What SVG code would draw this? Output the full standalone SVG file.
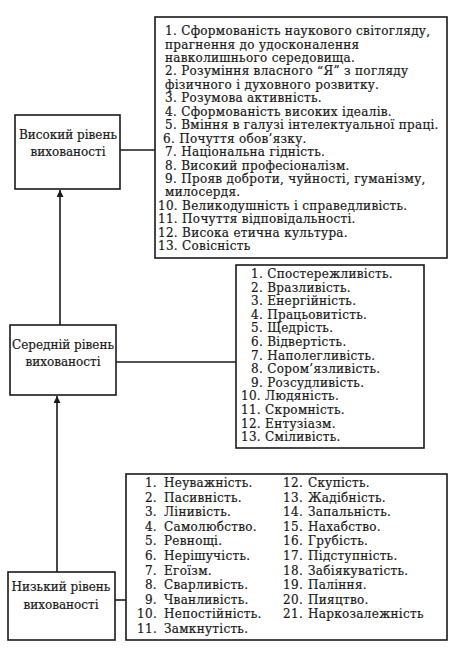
<svg xmlns="http://www.w3.org/2000/svg" width="455" height="650" viewBox="0 0 455 650">
<defs>
<style>
.box{fill:#fff;stroke:#1a1a1a;stroke-width:1.6}
.ln{fill:none;stroke:#1a1a1a;stroke-width:1.6}
.t{font-family:"DejaVu Serif","Liberation Serif",serif;font-size:12px;letter-spacing:0.3px;fill:#1a1a1a;stroke:#1a1a1a;stroke-width:0.2}
.n{font-family:"DejaVu Serif","Liberation Serif",serif;font-size:12px;fill:#1a1a1a;stroke:#1a1a1a;stroke-width:0.2;text-anchor:middle}
.e{text-anchor:end}
</style>
<marker id="arr" viewBox="0 0 10 10" refX="10" refY="5" markerWidth="8" markerHeight="7" markerUnits="userSpaceOnUse" orient="auto">
<path d="M0,0 L10,5 L0,10 z" fill="#1a1a1a"/>
</marker>
</defs>
<rect width="455" height="650" fill="#fff"/>

<g id="connectors">
<line class="ln" x1="120" y1="150" x2="155" y2="150"/>
<line class="ln" x1="116" y1="362" x2="236" y2="362"/>
<line class="ln" x1="115" y1="600" x2="126" y2="600"/>
<line class="ln" x1="60" y1="325" x2="60" y2="190" marker-end="url(#arr)"/>
<line class="ln" x1="57" y1="572" x2="57" y2="396" marker-end="url(#arr)"/>
</g>

<g id="high">
<rect class="box" x="15" y="115" width="105" height="74"/>
<text class="n" x="68" y="139">Високий рівень</text>
<text class="n" x="68" y="156">вихованості</text>
</g>

<g id="middle">
<rect class="box" x="10" y="325" width="106" height="70"/>
<text class="n" x="63" y="349">Середній рівень</text>
<text class="n" x="63" y="366">вихованості</text>
</g>

<g id="low">
<rect class="box" x="8" y="572" width="107" height="68"/>
<text class="n" x="61" y="591">Низький рівень</text>
<text class="n" x="61" y="609">вихованості</text>
</g>

<g id="high-list">
<rect class="box" x="155" y="17" width="292" height="241"/>
<text class="t" x="165" y="35">1. Сформованість наукового світогляду,</text>
<text class="t" x="165" y="48.5">прагнення до удосконалення</text>
<text class="t" x="165" y="61.9">навколишнього середовища.</text>
<text class="t" x="165" y="75.4">2. Розуміння власного “Я” з погляду</text>
<text class="t" x="165" y="88.8">фізичного і духовного розвитку.</text>
<text class="t" x="165" y="102.3">3. Розумова активність.</text>
<text class="t" x="165" y="115.7">4. Сформованість високих ідеалів.</text>
<text class="t" x="165" y="129.2">5. Вміння в галузі інтелектуальної праці.</text>
<text class="t" x="163" y="142.6">6. Почуття обов’язку.</text>
<text class="t" x="165" y="156.1">7. Національна гідність.</text>
<text class="t" x="165" y="169.5">8. Високий професіоналізм.</text>
<text class="t" x="165" y="183">9. Прояв  доброти, чуйності, гуманізму,</text>
<text class="t" x="165" y="196.4">милосердя.</text>
<text class="t" x="158" y="209.9">10. Великодушність і справедливість.</text>
<text class="t" x="158" y="223.3">11. Почуття відповідальності.</text>
<text class="t" x="158" y="236.8">12. Висока етична культура.</text>
<text class="t" x="158" y="250.2">13. Совісність</text>
</g>

<g id="middle-list">
<rect class="box" x="236" y="265" width="188" height="183"/>
<text class="t" x="251" y="278">1. Спостережливість.</text>
<text class="t" x="251" y="291.6">2. Вразливість.</text>
<text class="t" x="251" y="305.2">3. Енергійність.</text>
<text class="t" x="251" y="318.8">4. Працьовитість.</text>
<text class="t" x="251" y="332.4">5. Щедрість.</text>
<text class="t" x="251" y="346">6. Відвертість.</text>
<text class="t" x="251" y="359.6">7. Наполегливість.</text>
<text class="t" x="251" y="373.2">8. Сором’язливість.</text>
<text class="t" x="251" y="386.8">9. Розсудливість.</text>
<text class="t" x="241" y="400.4">10. Людяність.</text>
<text class="t" x="241" y="414">11. Скромність.</text>
<text class="t" x="241" y="427.6">12. Ентузіазм.</text>
<text class="t" x="241" y="441.2">13. Сміливість.</text>
</g>

<g id="low-list">
<rect class="box" x="126" y="474" width="321" height="166"/>
<text class="t e" x="157" y="487">1.</text><text class="t" x="164" y="487">Неуважність.</text>
<text class="t e" x="157" y="501.6">2.</text><text class="t" x="164" y="501.6">Пасивність.</text>
<text class="t e" x="157" y="516.2">3.</text><text class="t" x="164" y="516.2">Лінивість.</text>
<text class="t e" x="157" y="530.8">4.</text><text class="t" x="164" y="530.8">Самолюбство.</text>
<text class="t e" x="157" y="545.4">5.</text><text class="t" x="164" y="545.4">Ревнощі.</text>
<text class="t e" x="157" y="560">6.</text><text class="t" x="164" y="560">Нерішучість.</text>
<text class="t e" x="157" y="574.6">7.</text><text class="t" x="164" y="574.6">Егоїзм.</text>
<text class="t e" x="157" y="589.2">8.</text><text class="t" x="164" y="589.2">Сварливість.</text>
<text class="t e" x="157" y="603.8">9.</text><text class="t" x="164" y="603.8">Чванливість.</text>
<text class="t e" x="157" y="618.4">10.</text><text class="t" x="164" y="618.4">Непостійність.</text>
<text class="t e" x="157" y="633">11.</text><text class="t" x="164" y="633">Замкнутість.</text>
<text class="t e" x="303" y="487">12.</text><text class="t" x="308" y="487">Скупість.</text>
<text class="t e" x="303" y="501.6">13.</text><text class="t" x="308" y="501.6">Жадібність.</text>
<text class="t e" x="303" y="516.2">14.</text><text class="t" x="308" y="516.2">Запальність.</text>
<text class="t e" x="303" y="530.8">15.</text><text class="t" x="308" y="530.8">Нахабство.</text>
<text class="t e" x="303" y="545.4">16.</text><text class="t" x="308" y="545.4">Грубість.</text>
<text class="t e" x="303" y="560">17.</text><text class="t" x="308" y="560">Підступність.</text>
<text class="t e" x="303" y="574.6">18.</text><text class="t" x="308" y="574.6">Забіякуватість.</text>
<text class="t e" x="303" y="589.2">19.</text><text class="t" x="308" y="589.2">Паління.</text>
<text class="t e" x="303" y="603.8">20.</text><text class="t" x="308" y="603.8">Пияцтво.</text>
<text class="t e" x="303" y="618.4">21.</text><text class="t" x="308" y="618.4">Наркозалежність</text>
</g>
</svg>
